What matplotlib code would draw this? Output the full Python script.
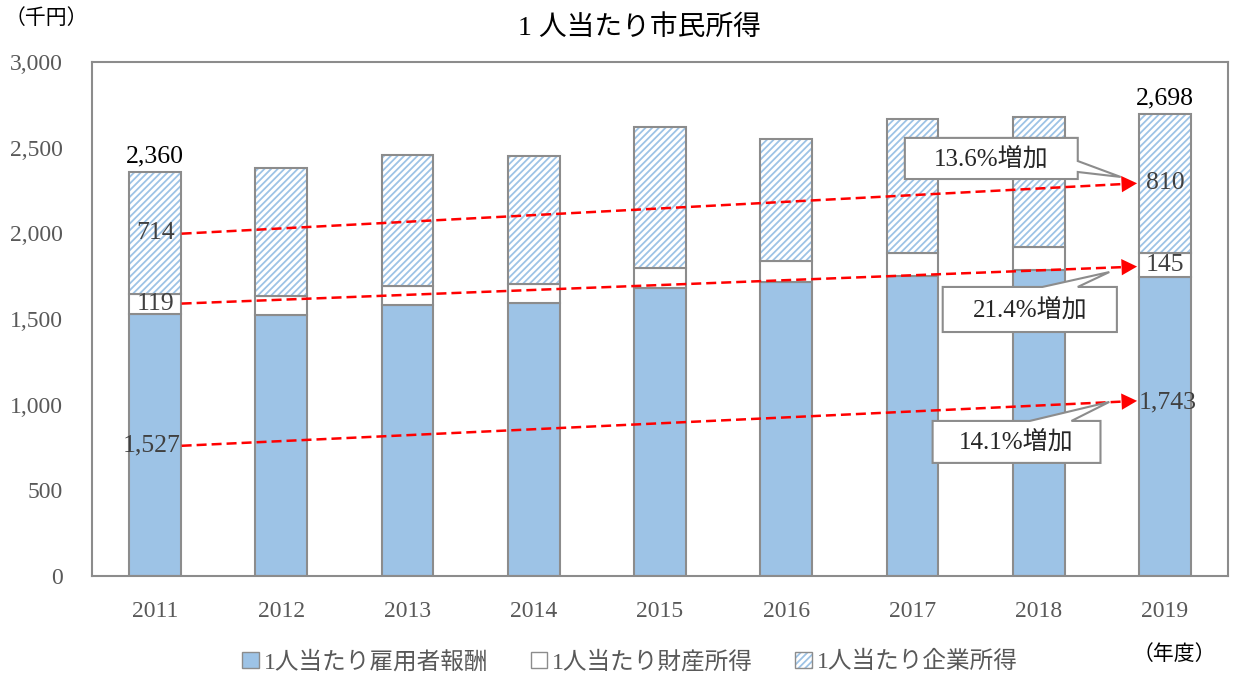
import matplotlib
matplotlib.use('Agg')
import matplotlib.pyplot as plt
from matplotlib.patches import Patch, Polygon
from matplotlib.ticker import FuncFormatter

plt.rcParams['font.family'] = ['Liberation Serif', 'Noto Sans CJK JP']
plt.rcParams['hatch.linewidth'] = 1.3

BLUE = '#9DC3E6'
GRAY = '#8C8C8C'
TXT = '#404040'

years = ['2011', '2012', '2013', '2014', '2015', '2016', '2017', '2018', '2019']
employee = [1527, 1524, 1582, 1594, 1681, 1716, 1751, 1786, 1743]  # 雇用者報酬
prop = [119, 111, 111, 111, 117, 123, 135, 135, 145]  # 財産所得
corp = [714, 747, 765, 747, 823, 712, 782, 759, 810]  # 企業所得
x = list(range(len(years)))
w = 0.41

fig = plt.figure(figsize=(12.35, 6.79), dpi=100)
ax = fig.add_axes([0.0745, 0.1517, 0.9198, 0.757])

ax.bar(x, employee, w, color=BLUE, edgecolor=GRAY, lw=1.5)
ax.bar(x, prop, w, bottom=employee, color='white', edgecolor=GRAY, lw=1.5)
base2 = [a + b for a, b in zip(employee, prop)]
ax.bar(x, corp, w, bottom=base2, color='white', edgecolor=BLUE, hatch='/////', lw=0)
ax.bar(x, corp, w, bottom=base2, fill=False, edgecolor=GRAY, lw=1.5)

ax.set_xlim(-0.5, 8.5)
ax.set_ylim(0, 3000)
ax.set_yticks(range(0, 3001, 500))
ax.yaxis.set_major_formatter(FuncFormatter(lambda v, p: '{:,.0f}'.format(v)))
ax.set_xticks(x)
ax.set_xticklabels(years)
ax.tick_params(length=0, labelsize=17, labelcolor='#595959')
ax.tick_params(axis='y', pad=21)
ax.tick_params(axis='x', pad=18)
for s in ax.spines.values():
    s.set_color(GRAY)
    s.set_linewidth(1.5)

# totals and segment labels
tot = [a + b for a, b in zip(base2, corp)]
for i in (0, 8):
    ax.annotate('{:,}'.format(tot[i]), (x[i], tot[i]), xytext=(0, 3), textcoords='offset points',
                ha='center', va='bottom', fontsize=18.5, color='black')
ax.text(0, base2[0] + corp[0] / 2, str(corp[0]), ha='center', va='center', fontsize=18.5, color=TXT)
ax.text(0, employee[0] + prop[0] / 2, str(prop[0]), ha='center', va='center', fontsize=18.5, color=TXT)
ax.text(0.2, 760, '{:,}'.format(employee[0]), ha='right', va='center', fontsize=18.5, color=TXT)
ax.text(8, base2[8] + corp[8] / 2, str(corp[8]), ha='center', va='center', fontsize=18.5, color=TXT)
ax.text(8, employee[8] + prop[8] / 2, str(prop[8]), ha='center', va='center', fontsize=18.5, color=TXT)
ax.text(7.79, 1012, '{:,}'.format(employee[8]), ha='left', va='center', fontsize=18.5, color=TXT)


def arrow(y0, y1, x0=0.21, x1=7.78):
    # dashed red line with a solid head
    k = (y1 - y0) / (x1 - x0)
    xe = x1 - 0.09
    ax.plot([x0, xe], [y0, y0 + k * (xe - x0)], color='red', lw=1.8, dashes=(4, 2), zorder=4)
    ax.annotate('', xy=(x1, y1), xytext=(x1 - 0.15, y1 - k * 0.15),
                arrowprops=dict(arrowstyle='-|>,head_length=0.8,head_width=0.42', color='red',
                                lw=0, shrinkA=0, shrinkB=0, mutation_scale=14), zorder=4)


arrow(1998, 2292)
arrow(1590, 1806)
arrow(760, 1022)


def callout(verts, cx, cy, txt):
    ax.add_patch(Polygon(verts, closed=True, facecolor='white', edgecolor=GRAY, lw=1.5, zorder=5))
    ax.text(cx, cy, txt, ha='center', va='center', fontsize=18, color='#262626', zorder=6)


callout([(5.94, 2557), (7.31, 2557), (7.31, 2422), (7.65, 2329), (7.31, 2358),
         (7.31, 2317), (5.94, 2317)], 6.625, 2437, '13.6%増加')
callout([(6.24, 1687), (7.03, 1687), (7.56, 1774), (7.31, 1687), (7.62, 1687),
         (7.62, 1424), (6.24, 1424)], 6.93, 1555, '21.4%増加')
callout([(6.16, 905), (6.93, 905), (7.56, 1016), (7.26, 905), (7.49, 905),
         (7.49, 660), (6.16, 660)], 6.825, 782, '14.1%増加')

fig.text(0.518, 0.958, '1 人当たり市民所得', fontsize=20, ha='center', va='center')
fig.text(0.004, 0.972, '（千円）', fontsize=15, ha='left', va='center')
fig.text(0.985, 0.035, '（年度）', fontsize=15, ha='right', va='center')

handles = [Patch(facecolor=BLUE, edgecolor=GRAY),
           Patch(facecolor='white', edgecolor=GRAY),
           (Patch(facecolor='white', edgecolor=BLUE, hatch='/////', lw=0),
            Patch(facecolor='none', edgecolor=GRAY))]
labels = ['1人当たり雇用者報酬', '1人当たり財産所得', '1人当たり企業所得']
fig.legend(handles, labels, loc='center', bbox_to_anchor=(0.51, 0.025), ncol=3, frameon=False,
           fontsize=17, handlelength=0.7, handleheight=0.7, handletextpad=0.2, columnspacing=1.8,
           labelcolor='#595959')

fig.savefig('out.png', dpi=100)
